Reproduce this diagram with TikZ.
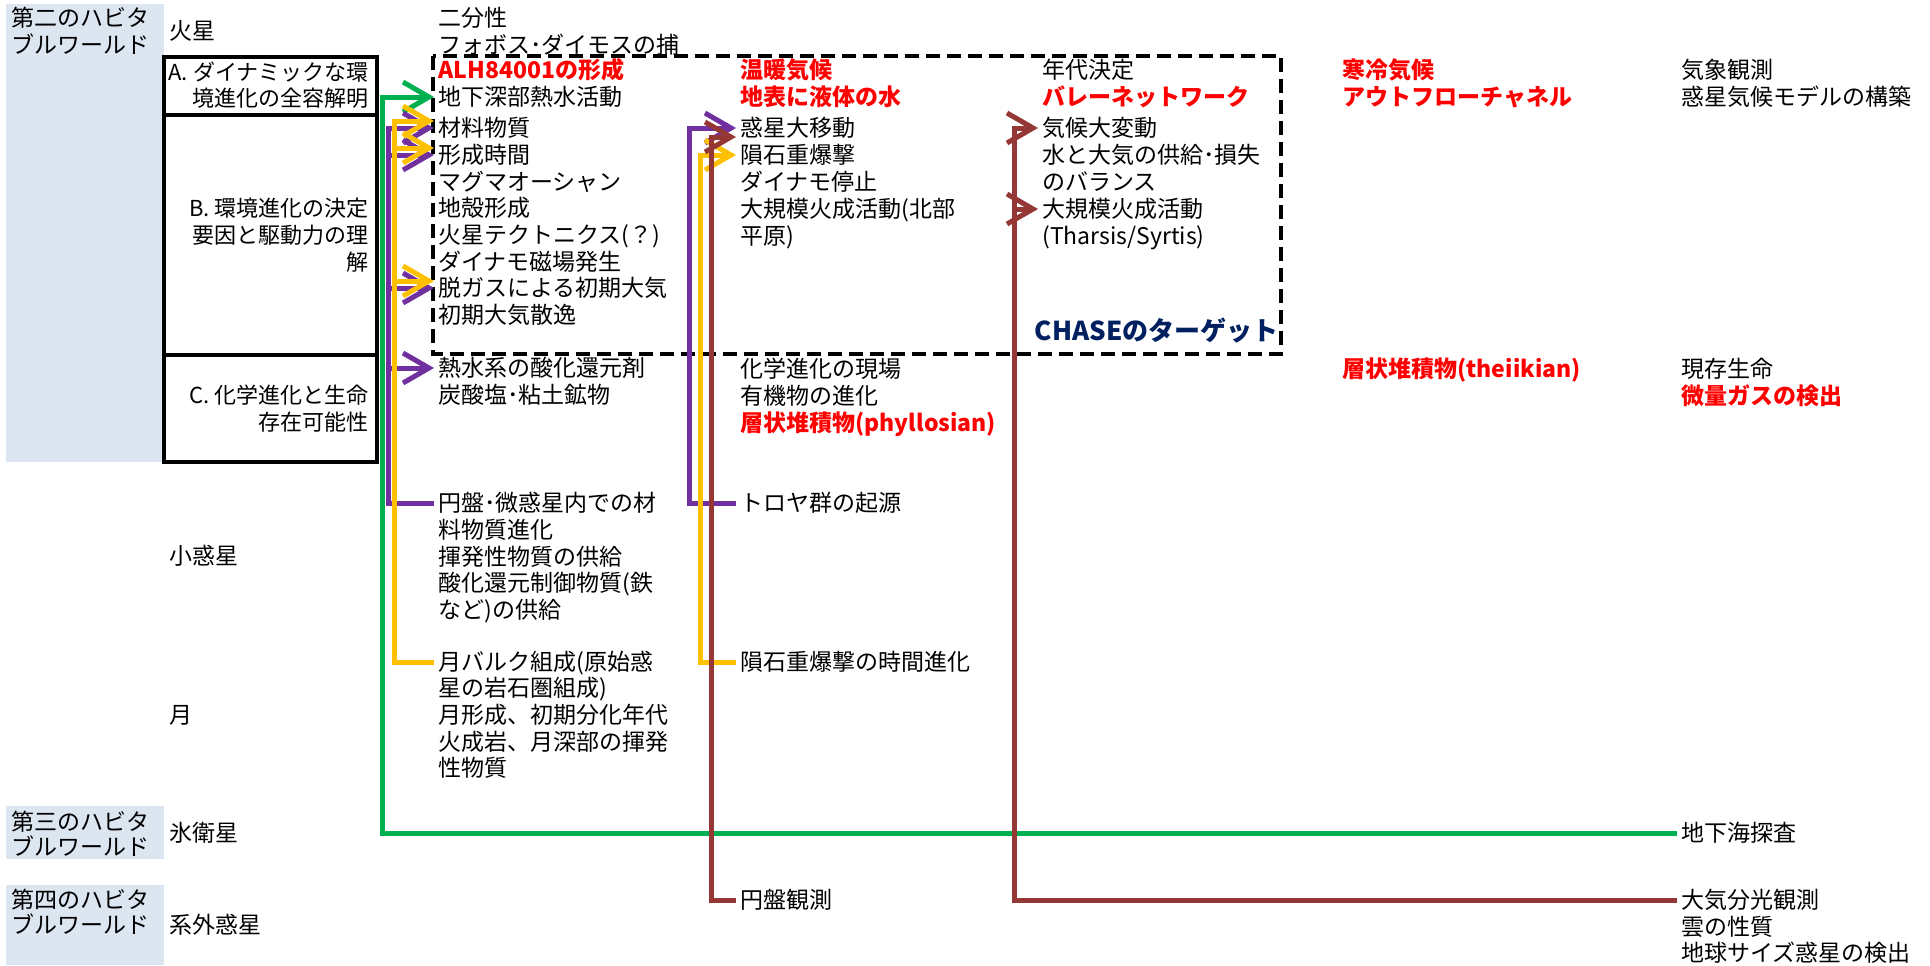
\documentclass[tikz,border=0pt]{standalone}
\usepackage{fontspec}
\setmainfont{Noto Sans CJK JP}
\usetikzlibrary{arrows.meta}
\definecolor{bgblue}{RGB}{220,230,241}
\definecolor{cgreen}{RGB}{0,176,80}
\definecolor{cpurple}{RGB}{112,48,160}
\definecolor{cyellow}{RGB}{255,192,0}
\definecolor{cbrown}{RGB}{149,55,53}
\definecolor{cred}{RGB}{255,0,0}
\definecolor{cnavy}{RGB}{0,32,96}
\newcommand\fsn{\fontsize{11.5pt}{13pt}\selectfont}
\newcommand\fsb{\fontsize{11pt}{13pt}\selectfont}
\begin{document}
\begin{tikzpicture}[x=0.5pt,y=-0.5pt,
  t/.style={anchor=west, inner xsep=2pt, inner ysep=0pt, font=\fsn, text height=10.1pt, text depth=1.4pt},
  r/.style={t, text=cred, font=\fsn\bfseries},
  bl/.style={anchor=east, inner xsep=2pt, inner ysep=0pt, font=\fsb, text height=9.7pt, text depth=1.3pt},
  conn/.style={line width=2.5pt},
  arr/.style={conn, -{Straight Barb[length=13pt,width=15pt,sharp]}},
  frame/.style={line width=2.3pt},
  target/.style={line width=2pt, dash pattern=on 7pt off 3.5pt}
]
\useasboundingbox (0,0) rectangle (1930,965);
\fill[white] (0,0) rectangle (1930,965);
% background panels
\fill[bgblue] (6,4) rectangle (164,462);
\fill[bgblue] (6,806) rectangle (164,859);
\fill[bgblue] (6,885) rectangle (164,965);
% category frame
\draw[frame] (164,57) rectangle (377,462);
\draw[frame] (164,115) -- (377,115);
\draw[frame] (164,355) -- (377,355);
% CHASE target frame
\draw[target] (433,56) rectangle (1281,354);

% world labels
\node[t] (h2a) at (7,18) {第二のハビタ};
\node[t] (h2b) at (7,45) {ブルワールド};
\node[t] (h3a) at (7,822) {第三のハビタ};
\node[t] (h3b) at (7,847) {ブルワールド};
\node[t] (h4a) at (7,900) {第四のハビタ};
\node[t] (h4b) at (7,925) {ブルワールド};
% bodies
\node[t] (mars) at (165,31) {火星};
\node[t] (ast) at (165,556) {小惑星};
\node[t] (moon) at (165,715) {月};
\node[t] (icy) at (165,833) {氷衛星};
\node[t] (exo) at (165,925) {系外惑星};
% category texts
\node[bl] (ka1) at (373,72) {A. ダイナミックな環};
\node[bl] (ka2) at (373,98) {境進化の全容解明};
\node[bl] (kb1) at (373,208) {B. 環境進化の決定};
\node[bl] (kb2) at (373,235) {要因と駆動力の理};
\node[bl] (kb3) at (373,262) {解};
\node[bl] (kc1) at (373,395) {C. 化学進化と生命};
\node[bl] (kc2) at (373,422) {存在可能性};

% column 1
\node[t] (c1a) at (434,18) {二分性};
\node[t] (c1b) at (434,45) {フォボス･ダイモスの捕};
\node[r] (c1c) at (434,70) {ALH84001の形成};
\node[t] (c1d) at (434,97) {地下深部熱水活動};
\node[t] (c1e) at (434,128) {材料物質};
\node[t] (c1f) at (434,155) {形成時間};
\node[t] (c1g) at (434,182) {マグマオーシャン};
\node[t] (c1h) at (434,208) {地殻形成};
\node[t] (c1i) at (434,235) {火星テクトニクス(？)};
\node[t] (c1j) at (434,262) {ダイナモ磁場発生};
\node[t] (c1k) at (434,288) {脱ガスによる初期大気};
\node[t] (c1l) at (434,315) {初期大気散逸};
\node[t] (c1m) at (434,368) {熱水系の酸化還元剤};
\node[t] (c1n) at (434,395) {炭酸塩･粘土鉱物};
\node[t] (c1o) at (434,503) {円盤･微惑星内での材};
\node[t] (c1p) at (434,530) {料物質進化};
\node[t] (c1q) at (434,557) {揮発性物質の供給};
\node[t] (c1r) at (434,583) {酸化還元制御物質(鉄};
\node[t] (c1s) at (434,610) {など)の供給};
\node[t] (c1t) at (434,662) {月バルク組成(原始惑};
\node[t] (c1u) at (434,688) {星の岩石圏組成)};
\node[t] (c1v) at (434,715) {月形成、初期分化年代};
\node[t] (c1w) at (434,742) {火成岩、月深部の揮発};
\node[t] (c1x) at (434,768) {性物質};

% column 2
\node[r] (c2a) at (736,70) {温暖気候};
\node[r] (c2b) at (736,97) {地表に液体の水};
\node[t] (c2c) at (736,128) {惑星大移動};
\node[t] (c2d) at (736,155) {隕石重爆撃};
\node[t] (c2e) at (736,182) {ダイナモ停止};
\node[t] (c2f) at (736,209) {大規模火成活動(北部};
\node[t] (c2g) at (736,236) {平原)};
\node[t] (c2h) at (736,369) {化学進化の現場};
\node[t] (c2i) at (736,396) {有機物の進化};
\node[r] (c2j) at (736,423) {層状堆積物(phyllosian)};
\node[t] (c2k) at (736,503) {トロヤ群の起源};
\node[t] (c2l) at (736,662) {隕石重爆撃の時間進化};
\node[t] (c2m) at (736,900) {円盤観測};

% column 3
\node[t] (c3a) at (1038,70) {年代決定};
\node[r] (c3b) at (1038,97) {バレーネットワーク};
\node[t] (c3c) at (1038,128) {気候大変動};
\node[t] (c3d) at (1038,155) {水と大気の供給･損失};
\node[t] (c3e) at (1038,182) {のバランス};
\node[t] (c3f) at (1038,209) {大規模火成活動};
\node[t] (c3g) at (1038,236) {(Tharsis/Syrtis)};
\node[anchor=east, inner sep=0pt, text=cnavy, font=\fontsize{13pt}{15pt}\selectfont\bfseries] (chase) at (1279,331) {CHASEのターゲット};

% column 4
\node[r] (c4a) at (1338,70) {寒冷気候};
\node[r] (c4b) at (1338,97) {アウトフローチャネル};
\node[r] (c4c) at (1338,369) {層状堆積物(theiikian)};

% column 5
\node[t] (c5a) at (1677,70) {気象観測};
\node[t] (c5b) at (1677,97) {惑星気候モデルの構築};
\node[t] (c5c) at (1677,369) {現存生命};
\node[r] (c5d) at (1677,396) {微量ガスの検出};
\node[t] (c5e) at (1677,833) {地下海探査};
\node[t] (c5f) at (1677,900) {大気分光観測};
\node[t] (c5g) at (1677,927) {雲の性質};
\node[t] (c5h) at (1677,953) {地球サイズ惑星の検出};

% trunk positions
\coordinate (gx) at (382,0);
\coordinate (px1) at (388,0);
\coordinate (yx1) at (394,0);
\coordinate (px2) at (689,0);
\coordinate (yx2) at (700,0);
\coordinate (bx2) at (711,0);
\coordinate (bx3) at (1014,0);
\coordinate (yA) at ([yshift=3.5pt]c1e.west);
\coordinate (yB) at ([yshift=3.5pt]c1f.west);
\coordinate (yC) at ([yshift=3.5pt]c1k.west);
\coordinate (bD) at ([yshift=-4.5pt]c2c.west);

% green
\draw[arr, cgreen] (c5e.west) -| (gx |- c1d.west) -- (c1d.west);
% purple
\draw[arr, cpurple] (c1o.west) -| (px1 |- c1e.west) -- (c1e.west);
\draw[arr, cpurple] (px1 |- c1f.west) -- (c1f.west);
\draw[arr, cpurple] (px1 |- c1k.west) -- (c1k.west);
\draw[arr, cpurple] (px1 |- c1m.west) -- (c1m.west);
\draw[arr, cpurple] (c2k.west) -| (px2 |- c2c.west) -- (c2c.west);
% yellow
\draw[arr, cyellow] (c1t.west) -| (yx1 |- yA) -- (yA);
\draw[arr, cyellow] (yx1 |- yB) -- (yB);
\draw[arr, cyellow] (yx1 |- yC) -- (yC);
\draw[arr, cyellow] (c2l.west) -| (yx2 |- c2d.west) -- (c2d.west);
% brown
\draw[arr, cbrown] (c2m.west) -| (bx2 |- bD) -- (bD);
\draw[arr, cbrown] (c5f.west) -| (bx3 |- c3c.west) -- (c3c.west);
\draw[arr, cbrown] (bx3 |- c3f.west) -- (c3f.west);
\end{tikzpicture}
\end{document}
